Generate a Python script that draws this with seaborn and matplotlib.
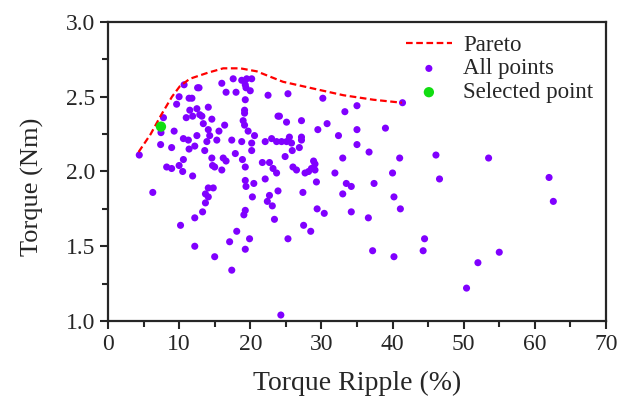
import numpy as np
import pandas as pd
import matplotlib
matplotlib.use("Agg")
import matplotlib.pyplot as plt
import seaborn as sns
from matplotlib.ticker import MultipleLocator

# Pareto front (dashed line)
pareto_x = [4.3, 6.0, 7.5, 9.0, 10.1, 11.5, 14.0, 16.2, 18.6, 20.9, 24.6, 29.3, 33.1, 37.3, 41.3]
pareto_y = [2.13, 2.25, 2.38, 2.50, 2.57, 2.62, 2.66, 2.69, 2.69, 2.67, 2.60, 2.55, 2.51, 2.48, 2.46]

# all evaluated designs
ripple = [
    4.4, 7.8, 7.45, 7.4, 8.95, 9.3, 9.65, 10.0, 10.7, 11.4, 11.8, 12.6, 12.8, 11.5, 11.0, 12.5,
    12.9, 13.2, 14.1, 14.6, 13.4, 11.9, 16.4, 14.1, 14.3, 15.6, 15.3, 12.5, 10.6, 11.3, 11.4, 12.2,
    13.9, 13.6, 17.4, 18.8, 19.7, 20.2, 20.2, 17.9, 16.2, 16.6, 14.6, 10.6, 10.0, 8.25, 8.95, 10.5,
    15.0, 16.0, 18.9, 19.3, 16.0, 16.6, 17.6, 18.0, 18.8, 19.5, 20.2, 19.3, 19.4, 20.0, 19.3, 19.2,
    19.2, 19.0, 19.2,
    22.5, 25.3, 30.2, 35.0, 33.3, 41.4, 23.9, 24.1, 25.1, 27.2, 30.8, 29.5, 35.0, 39.0, 32.4, 35.0,
    36.7, 41.0, 33.0, 20.6, 22.1, 23.0, 23.7, 24.4, 25.1, 25.5, 25.8, 27.2, 27.2, 26.9, 25.9, 24.9,
    21.7, 22.7, 23.2, 28.9, 29.1, 28.6, 29.1, 26.0, 26.5, 23.7, 27.7, 28.2, 31.9, 40.0,
    46.1, 46.6, 53.5, 62.0, 62.6, 41.1, 44.5, 44.3, 55.0, 52.0, 50.4,
    33.5, 34.2, 37.4, 33.0, 40.2, 30.4, 34.2, 36.6, 37.2, 40.2,
    14.7, 11.9, 6.3, 14.1, 14.8, 13.7, 14.1, 13.7, 13.3, 12.2, 10.2,
    20.5, 19.3, 19.4, 20.3, 19.3, 19.1, 18.1, 17.1, 19.9, 19.3, 17.4, 15.0, 12.2,
    22.1, 27.4, 29.3, 23.9, 22.7, 22.4, 23.1, 23.4, 25.3, 27.5, 28.5, 29.4, 24.3,
]
torque = [
    2.11, 2.36, 2.26, 2.18, 2.16, 2.27, 2.45, 2.50, 2.58, 2.49, 2.49, 2.56, 2.56, 2.41, 2.36, 2.42,
    2.38, 2.37, 2.43, 2.35, 2.32, 2.37, 2.31, 2.28, 2.24, 2.27, 2.21, 2.24, 2.22, 2.21, 2.15, 2.17,
    2.20, 2.14, 2.21, 2.20, 2.27, 2.19, 2.14, 2.12, 2.09, 2.07, 2.09, 2.08, 2.04, 2.03, 2.02, 2.00,
    2.03, 2.01, 2.08, 2.03, 2.59, 2.53, 2.62, 2.53, 2.61, 2.62, 2.62, 2.58, 2.56, 2.54, 2.48, 2.41,
    2.39, 2.34, 2.31,
    2.51, 2.52, 2.49, 2.44, 2.40, 2.46, 2.37, 2.37, 2.33, 2.34, 2.32, 2.28, 2.28, 2.29, 2.24, 2.18,
    2.13, 2.09, 2.09, 2.24, 2.20, 2.22, 2.20, 2.20, 2.20, 2.23, 2.19, 2.23, 2.21, 2.16, 2.14, 2.10,
    2.06, 2.06, 2.02, 2.07, 2.05, 2.02, 2.01, 2.03, 2.01, 1.99, 1.99, 2.00, 1.99, 1.99,
    2.11, 1.95, 2.09, 1.96, 1.80, 1.75, 1.55, 1.47, 1.46, 1.39, 1.22,
    1.92, 1.90, 1.92, 1.85, 1.83, 1.72, 1.73, 1.69, 1.47, 1.43,
    2.04, 1.97, 1.86, 1.89, 1.89, 1.85, 1.83, 1.79, 1.73, 1.69, 1.64,
    1.92, 1.94, 1.90, 1.83, 1.74, 1.71, 1.60, 1.53, 1.55, 1.48, 1.34, 1.43, 1.50,
    1.95, 1.86, 1.93, 1.87, 1.84, 1.80, 1.77, 1.68, 1.55, 1.64, 1.60, 1.75, 1.04,
]

selected_x = [7.45]
selected_y = [2.30]

pareto = pd.DataFrame({"ripple": pareto_x, "torque": pareto_y})
points = pd.DataFrame({"ripple": ripple, "torque": torque})
selected = pd.DataFrame({"ripple": selected_x, "torque": selected_y})

sns.set_style("ticks")
plt.rcParams["font.family"] = ["Liberation Serif", "DejaVu Serif"]

fig = plt.figure(figsize=(6.37, 4.07), dpi=100)
ax = fig.add_axes([0.1695, 0.2113, 0.7818, 0.7347])

sns.lineplot(data=pareto, x="ripple", y="torque", sort=False, estimator=None,
             color="#ff0000", linewidth=1.6, dashes=(3, 1.6), label="Pareto", ax=ax)
sns.scatterplot(data=points, x="ripple", y="torque", color="#8000ff", s=26,
                edgecolor="none", label="All points", ax=ax)
sns.scatterplot(data=selected, x="ripple", y="torque", color="#11dd11", s=55,
                edgecolor="none", label="Selected point", ax=ax, zorder=5)

ax.set_xlim(0, 70)
ax.set_ylim(1.0, 3.0)
ax.xaxis.set_major_locator(MultipleLocator(10))
ax.xaxis.set_minor_locator(MultipleLocator(5))
ax.yaxis.set_minor_locator(MultipleLocator(0.25))
ax.set_yticks([1.0, 1.5, 2.0, 2.5, 3.0])
ax.set_yticklabels(["1.0", "1.5", "2.0", "2.5", "3.0"])

ax.tick_params(which="major", direction="out", length=6, width=1.5, labelsize=17,
               top=False, right=False, pad=3)
ax.tick_params(which="minor", direction="out", length=4, width=1.5, top=False, right=False)
for sp in ax.spines.values():
    sp.set_linewidth(1.6)
    sp.set_visible(True)

ax.set_xlabel("Torque Ripple (%)", fontsize=20, labelpad=12)
ax.set_ylabel("Torque (Nm)", fontsize=19)
ax.yaxis.set_label_coords(-0.128, 0.45)

leg = ax.legend(loc="upper right", frameon=False, fontsize=16.5, handlelength=2.0,
                handletextpad=0.5, labelspacing=0.12, borderaxespad=0.15)

fig.savefig("out.png", dpi=100)
